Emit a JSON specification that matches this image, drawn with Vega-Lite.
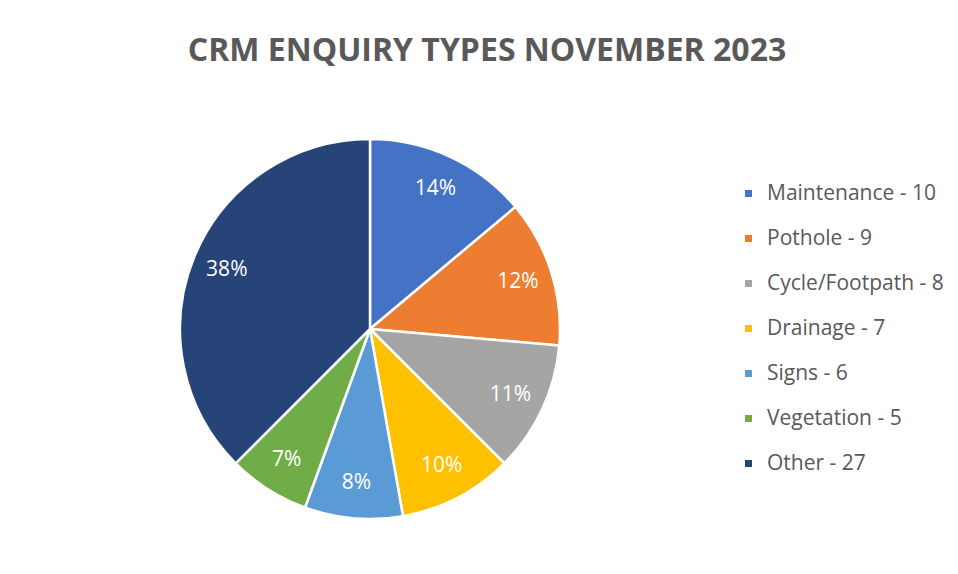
{
  "$schema": "https://vega.github.io/schema/vega-lite/v6.json",
  "width": 732,
  "height": 400,
  "padding": {"left": 4, "top": 35, "right": 0, "bottom": 0},
  "background": "white",
  "title": {
    "text": "CRM ENQUIRY TYPES NOVEMBER 2023",
    "font": "Open Sans",
    "fontSize": 32,
    "fontWeight": "bold",
    "color": "#595959",
    "anchor": "middle",
    "dx": 117,
    "offset": 61
  },
  "config": {"view": {"stroke": null}},
  "data": {
    "values": [
      {"type": "Maintenance - 10", "count": 10, "order": 1, "pct": "14%"},
      {"type": "Pothole - 9", "count": 9, "order": 2, "pct": "12%"},
      {"type": "Cycle/Footpath - 8", "count": 8, "order": 3, "pct": "11%"},
      {"type": "Drainage - 7", "count": 7, "order": 4, "pct": "10%"},
      {"type": "Signs - 6", "count": 6, "order": 5, "pct": "8%"},
      {"type": "Vegetation - 5", "count": 5, "order": 6, "pct": "7%"},
      {"type": "Other - 27", "count": 27, "order": 7, "pct": "38%"}
    ]
  },
  "encoding": {
    "theta": {"field": "count", "type": "quantitative", "stack": true},
    "order": {"field": "order", "type": "quantitative"}
  },
  "layer": [
    {
      "mark": {"type": "arc", "outerRadius": 190, "stroke": "white", "strokeWidth": 2.5},
      "encoding": {
        "color": {
          "field": "type",
          "type": "nominal",
          "sort": {"field": "order"},
          "scale": {
            "domain": ["Maintenance - 10", "Pothole - 9", "Cycle/Footpath - 8", "Drainage - 7", "Signs - 6", "Vegetation - 5", "Other - 27"],
            "range": ["#4472C4", "#ED7D31", "#A5A5A5", "#FFC000", "#5B9BD5", "#70AD47", "#264478"]
          },
          "legend": {
            "title": null,
            "orient": "none",
            "legendX": 734,
            "legendY": 54,
            "symbolType": "square",
            "symbolSize": 49,
            "symbolStrokeWidth": 0,
            "labelFont": "Open Sans",
            "labelFontSize": 21,
            "labelColor": "#595959",
            "labelOffset": 8,
            "rowPadding": 23,
            "labelLimit": 300
          }
        }
      }
    },
    {
      "mark": {"type": "text", "radius": 155, "font": "Open Sans", "fontSize": 21, "color": "white"},
      "encoding": {"text": {"field": "pct", "type": "nominal"}}
    }
  ]
}
